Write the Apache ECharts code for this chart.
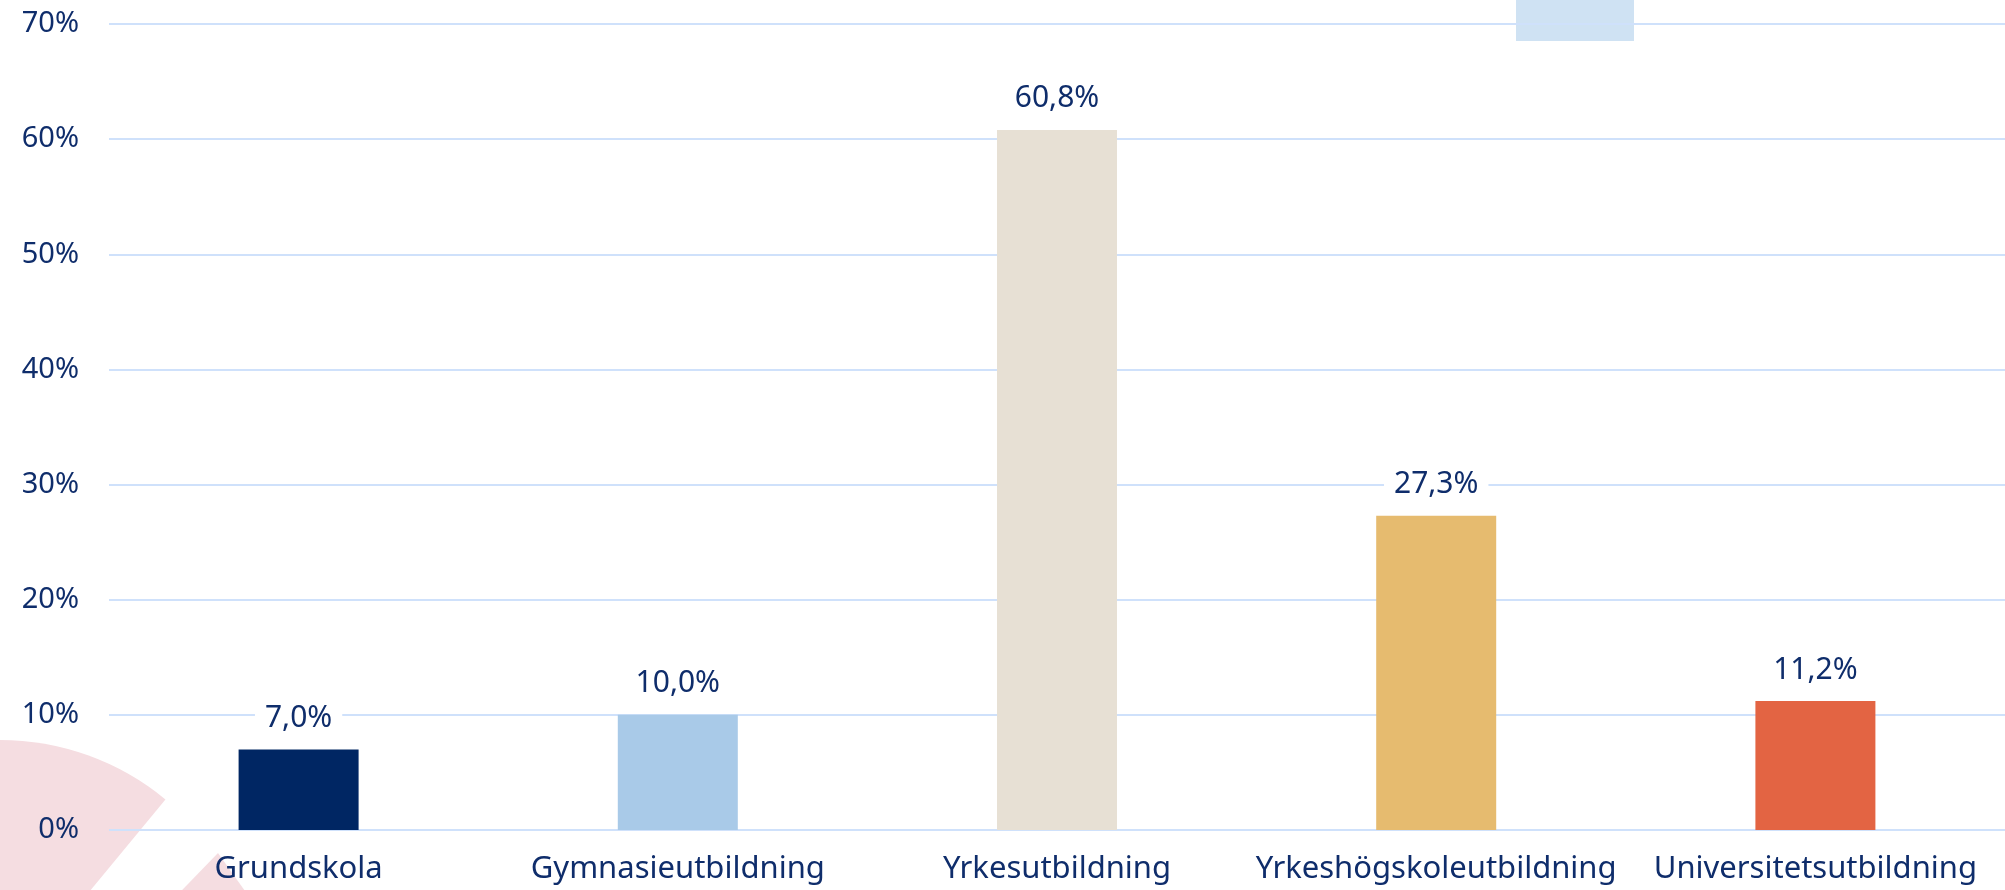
<!DOCTYPE html>
<html>
<head>
<meta charset="utf-8">
<script src="https://cdn.jsdelivr.net/npm/echarts@6/dist/echarts.min.js"></script>
<style>
  html, body { margin: 0; padding: 0; background: #fff; }
  #main { width: 2005px; height: 890px; }
</style>
</head>
<body>
<div id="main"></div>
<script>
var categories = ['Grundskola', 'Gymnasieutbildning', 'Yrkesutbildning', 'Yrkeshögskoleutbildning', 'Universitetsutbildning'];
var values = [7.0, 10.0, 60.8, 27.3, 11.2];
var barColors = ['#002663', '#a9cae8', '#e7e0d4', '#e6bb6f', '#e36443'];
var yTicks = [0, 10, 20, 30, 40, 50, 60, 70];

var textColor = '#0f2d6b';
var fontFam = '"Noto Sans", sans-serif';

var myChart = echarts.init(document.getElementById('main'));

var option = {
    animation: false,
    backgroundColor: '#fff',
    // dekorationer i bakgrunden
    graphic: [
        {
            type: 'sector', z: -10,
            shape: { cx: 0, cy: 1000, r: 260, r0: 0, startAngle: -Math.PI, endAngle: -0.881, clockwise: true },
            style: { fill: '#f5dde1' }
        },
        {
            type: 'polygon', z: -10,
            shape: { points: [[218, 853], [158, 915], [262, 915]] },
            style: { fill: '#f5dde1' }
        },
        {
            type: 'rect', z: -10,
            shape: { x: 1516, y: 0, width: 118, height: 41 },
            style: { fill: '#cfe2f3' }
        }
    ],
    grid: { left: 109, right: 0, top: 24, bottom: 60, containLabel: false, outerBoundsMode: 'none' },
    xAxis: {
        type: 'category',
        data: categories,
        axisLine: { show: false },
        axisTick: { show: false },
        axisLabel: { color: textColor, fontSize: 31, fontFamily: fontFam, margin: 24, interval: 0, hideOverlap: false }
    },
    yAxis: {
        type: 'value',
        min: 0,
        max: 70,
        interval: 10,
        axisLine: { show: false },
        axisTick: { show: false },
        splitLine: { lineStyle: { color: '#cfe1fb', width: 2 } },
        axisLabel: {
            color: textColor, fontSize: 29, fontFamily: fontFam, margin: 30,
            formatter: function (v) { return yTicks.indexOf(v) >= 0 ? v + '%' : ''; }
        }
    },
    series: [{
        type: 'bar',
        barWidth: 120,
        data: values.map(function (v, i) {
            return { value: v, itemStyle: { color: barColors[i] } };
        }),
        label: {
            show: true,
            position: 'top',
            distance: 16,
            color: textColor,
            fontSize: 30,
            fontFamily: fontFam,
            backgroundColor: '#fff',
            padding: [0, 10],
            formatter: function (p) { return p.value.toFixed(1).replace('.', ',') + '%'; }
        }
    }]
};
myChart.setOption(option);
</script>
</body>
</html>
